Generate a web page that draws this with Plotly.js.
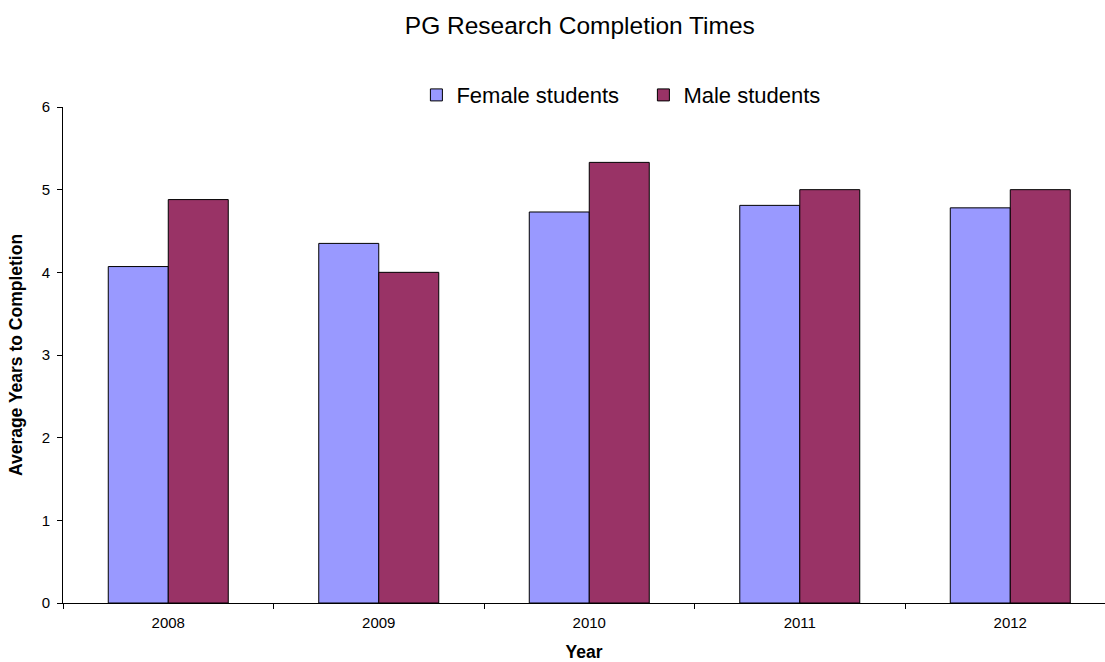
<!DOCTYPE html>
<html>
<head>
<meta charset="utf-8">
<script src="https://cdn.plot.ly/plotly-3.0.1.min.js"></script>
<style>html,body{margin:0;padding:0;background:#fff;}#chart{width:1105px;height:662px;}</style>
</head>
<body>
<div id="chart"></div>
<script>
const years = ['2008', '2009', '2010', '2011', '2012'];
const femaleYears = [4.07, 4.35, 4.73, 4.81, 4.78];
const maleYears = [4.88, 4.0, 5.33, 5.0, 5.0];
const seriesNames = ['Female students', 'Male students'];

const font = 'Liberation Sans, Arial, sans-serif';
const traces = [
  {type: 'bar', x: years, y: femaleYears, name: seriesNames[0],
   marker: {color: '#9999FF', line: {color: '#000000', width: 1}}},
  {type: 'bar', x: years, y: maleYears, name: seriesNames[1],
   marker: {color: '#993366', line: {color: '#000000', width: 1}}}
];
const layout = {
  width: 1105, height: 662,
  margin: {l: 63, r: 0, t: 107, b: 59},
  paper_bgcolor: '#ffffff', plot_bgcolor: '#ffffff',
  font: {family: font, color: '#000000'},
  title: {text: 'PG Research Completion Times', font: {size: 24.5, family: font, color: '#000'},
          xref: 'paper', x: 0.496, xanchor: 'center', yref: 'container', y: 0.961, yanchor: 'middle'},
  barmode: 'group', bargap: 0.43, bargroupgap: 0,
  showlegend: true,
  legend: {orientation: 'h', x: 0.557, xanchor: 'center', y: 1.024, yanchor: 'middle',
           font: {size: 22, family: font}, itemwidth: 30, entrywidth: 182, traceorder: 'normal'},
  xaxis: {type: 'category', range: [-0.5, 4.45], showline: true, linecolor: '#000', linewidth: 1,
          ticks: 'outside', tickson: 'boundaries', ticklen: 5, tickcolor: '#000',
          ticklabelstandoff: 6,
          tickfont: {size: 15, family: font}, showgrid: false, zeroline: false,
          title: {text: '<b>Year</b>', font: {size: 17.5, family: font}, standoff: 20}},
  yaxis: {range: [0, 6], dtick: 1, showline: true, linecolor: '#000', linewidth: 1,
          ticks: 'outside', ticklen: 5, tickcolor: '#000', showgrid: false, zeroline: false,
          ticklabelstandoff: 4,
          tickfont: {size: 15, family: font},
          title: {text: '<b>Average Years to Completion</b>', font: {size: 17.5, family: font}, standoff: 14}}
};
Plotly.newPlot('chart', traces, layout, {displayModeBar: false, staticPlot: true});
</script>
</body>
</html>
